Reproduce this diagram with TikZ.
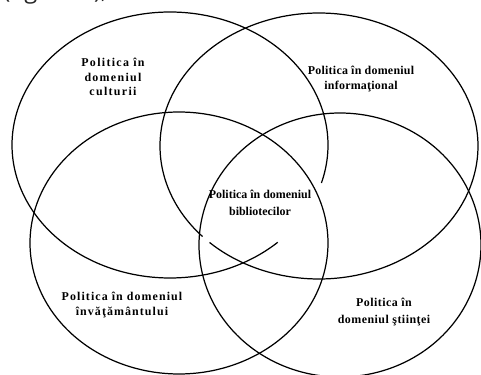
\documentclass[tikz,border=0pt]{standalone}
\usepackage{fontspec}
\setmainfont{Liberation Serif}
\newfontfamily\capfont{Open Sans}

\tikzset{cerc/.style={line width=0.7pt},
  domeniu/.style 2 args={font=\fontsize{6.8}{#1}\selectfont\bfseries\addfontfeature{LetterSpace=#2},
    align=center, inner sep=0pt}}

\begin{document}
\begin{tikzpicture}[x=0.02cm,y=-0.02cm]
\useasboundingbox (0,0) rectangle (481,375);
\clip (0,0) rectangle (481,375);
%\draw[help lines] (0,0) grid[step=50] (481,375);
\node[anchor=base west, inner sep=0pt, text=black!85, font=\capfont\fontsize{13.5}{16}\selectfont] (fig) at (3,-1) {(figura 1),};
% centrul x / centrul y / raza x / raza y / de la / pana la
\foreach \cx/\cy/\rx/\ry/\a/\b in {179/243/149/131/0/360, 340/245/141/132/0/360, 170/145/158/133/47/376.6, 319/146/159/133/137.1/493.5}
  \draw[cerc] plot[domain=\a:\b, samples=160, smooth] ({\cx+\rx*cos(\x)},{\cy+\ry*sin(\x)});
\node[domeniu={8.2}{11}] (cult) at (113,77) {Politica în\\domeniul\\culturii};
\node[domeniu={9}{2}] (info) at (361,79) {Politica în domeniul\\informaţional};
\node[domeniu={9.6}{0}] (bibl) at (260,203) {Politica în domeniul\\bibliotecilor};
\node[domeniu={8.5}{9}] (inv) at (122,305) {Politica în domeniul\\învăţământului};
\node[domeniu={10.2}{4}] (stiin) at (384,312) {Politica în\\domeniul ştiinţei};
\end{tikzpicture}
\end{document}
